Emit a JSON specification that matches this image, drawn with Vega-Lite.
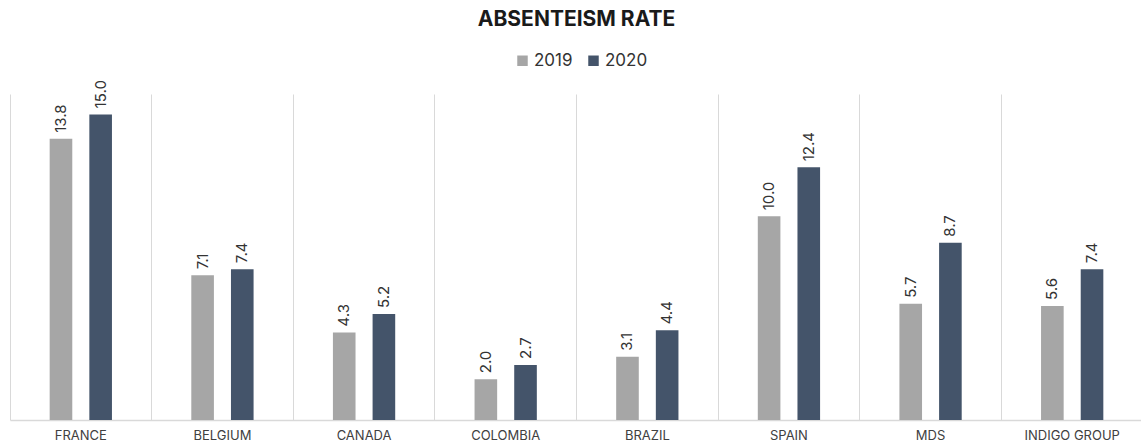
{
  "$schema": "https://vega.github.io/schema/vega-lite/v6.json",
  "width": 1133,
  "height": 326,
  "autosize": {"type": "none"},
  "padding": {"left": 10, "top": 94, "right": 0, "bottom": 24},
  "background": "white",
  "title": {
    "text": "ABSENTEISM RATE",
    "anchor": "middle",
    "font": "Inter",
    "fontSize": 21,
    "fontWeight": "bold",
    "color": "#1a1a1a",
    "offset": 22
  },
  "data": {
    "values": [
      {"country": "FRANCE", "year": "2019", "rate": 13.8},
      {"country": "FRANCE", "year": "2020", "rate": 15.0},
      {"country": "BELGIUM", "year": "2019", "rate": 7.1},
      {"country": "BELGIUM", "year": "2020", "rate": 7.4},
      {"country": "CANADA", "year": "2019", "rate": 4.3},
      {"country": "CANADA", "year": "2020", "rate": 5.2},
      {"country": "COLOMBIA", "year": "2019", "rate": 2.0},
      {"country": "COLOMBIA", "year": "2020", "rate": 2.7},
      {"country": "BRAZIL", "year": "2019", "rate": 3.1},
      {"country": "BRAZIL", "year": "2020", "rate": 4.4},
      {"country": "SPAIN", "year": "2019", "rate": 10.0},
      {"country": "SPAIN", "year": "2020", "rate": 12.4},
      {"country": "MDS", "year": "2019", "rate": 5.7},
      {"country": "MDS", "year": "2020", "rate": 8.7},
      {"country": "INDIGO GROUP", "year": "2019", "rate": 5.6},
      {"country": "INDIGO GROUP", "year": "2020", "rate": 7.4}
    ]
  },
  "encoding": {
    "x": {
      "field": "country",
      "type": "nominal",
      "sort": null,
      "scale": {"paddingInner": 0, "paddingOuter": 0},
      "axis": {
        "title": null,
        "labelAngle": 0,
        "bandPosition": 0,
        "labelFont": "Inter",
        "labelFontSize": 13,
        "labelColor": "#404040",
        "labelPadding": 9,
        "labelBaseline": "top",
        "ticks": false,
        "grid": true,
        "gridColor": "#d9d9d9",
        "gridWidth": 1,
        "domainColor": "#d9d9d9",
        "domainWidth": 1.5
      }
    },
    "xOffset": {
      "field": "year",
      "type": "nominal",
      "scale": {"paddingInner": 0.43, "paddingOuter": 1.13}
    },
    "y": {
      "field": "rate",
      "type": "quantitative",
      "scale": {"domain": [0, 16]},
      "axis": null
    }
  },
  "layer": [
    {
      "mark": {"type": "bar"},
      "encoding": {
        "color": {
          "field": "year",
          "type": "nominal",
          "scale": {"domain": ["2019", "2020"], "range": ["#a6a6a6", "#44546a"]},
          "legend": {
            "title": null,
            "orient": "none",
            "direction": "horizontal",
            "legendX": 504,
            "legendY": -42,
            "symbolType": "square",
            "symbolSize": 110,
            "symbolStrokeWidth": 0,
            "labelFont": "Inter",
            "labelFontSize": 17,
            "labelColor": "#333333",
            "labelOffset": 3,
            "columnPadding": 12
          }
        }
      }
    },
    {
      "mark": {
        "type": "text",
        "angle": -90,
        "align": "left",
        "baseline": "middle",
        "dx": 6,
        "font": "Inter",
        "fontSize": 15,
        "color": "#333333"
      },
      "encoding": {
        "text": {"field": "rate", "type": "quantitative", "format": ".1f"}
      }
    }
  ],
  "config": {
    "view": {"stroke": null}
  }
}
